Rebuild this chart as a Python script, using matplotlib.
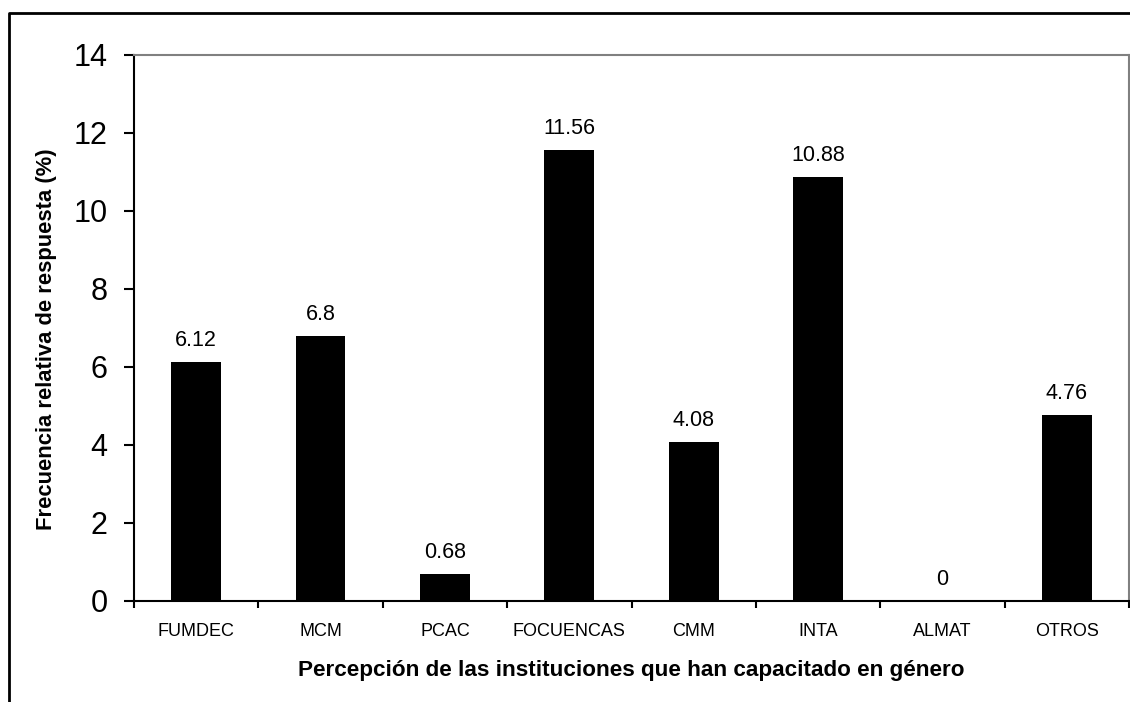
import matplotlib
matplotlib.use("Agg")
from matplotlib import pyplot as plt
from matplotlib.lines import Line2D
import numpy as np

instituciones = ["FUMDEC", "MCM", "PCAC", "FOCUENCAS", "CMM", "INTA", "ALMAT", "OTROS"]
frecuencia = [6.12, 6.8, 0.68, 11.56, 4.08, 10.88, 0, 4.76]
y_ticks = [0, 2, 4, 6, 8, 10, 12, 14]

plt.rcParams['font.family'] = ['Liberation Sans', 'DejaVu Sans']

fig = plt.figure(figsize=(11.3, 7.02), dpi=100)
ax = fig.add_axes([134 / 1130, 1 - 601 / 702, 995 / 1130, 546 / 702])

x = np.arange(len(instituciones))
bars = ax.bar(x, frecuencia, width=0.4, color="black")

for xi, v in zip(x, frecuencia):
    ax.annotate(f"{v:g}", (xi, v), xytext=(0, 8), textcoords="offset points",
                ha="center", va="bottom", fontsize=15.5)

ax.set_xlim(-0.5, len(instituciones) - 0.5)
ax.set_ylim(0, 14)
ax.set_yticks(y_ticks)
ax.tick_params(axis="y", labelsize=22, length=7, width=1.5, pad=12)

# ticks between categories, labels at the centres
ax.set_xticks(np.arange(len(instituciones) + 1) - 0.5)
ax.set_xticklabels([])
ax.set_xticks(x, minor=True)
ax.set_xticklabels(instituciones, minor=True, fontsize=13)
ax.tick_params(axis="x", which="major", length=5, width=1.5)
ax.tick_params(axis="x", which="minor", length=0, pad=16)

for s in ["left", "bottom"]:
    ax.spines[s].set_linewidth(1.5)
for s in ["top", "right"]:
    ax.spines[s].set_color("#808080")
    ax.spines[s].set_linewidth(1.5)

ax.set_xlabel("Percepción de las instituciones que han capacitado en género",
              fontsize=16.2, fontweight="bold", labelpad=14)
ax.set_ylabel("Frecuencia relativa de respuesta (%)",
              fontsize=15.8, fontweight="bold")
ax.yaxis.set_label_coords(-0.0775, 0.48)

# outer chart-area border (only left and top are visible in the crop)
fig.add_artist(Line2D([9 / 1130, 9 / 1130, 1.0], [0.0, 1 - 13 / 702, 1 - 13 / 702],
                      transform=fig.transFigure, color="black", linewidth=2))

fig.savefig("out.png", dpi=100)
